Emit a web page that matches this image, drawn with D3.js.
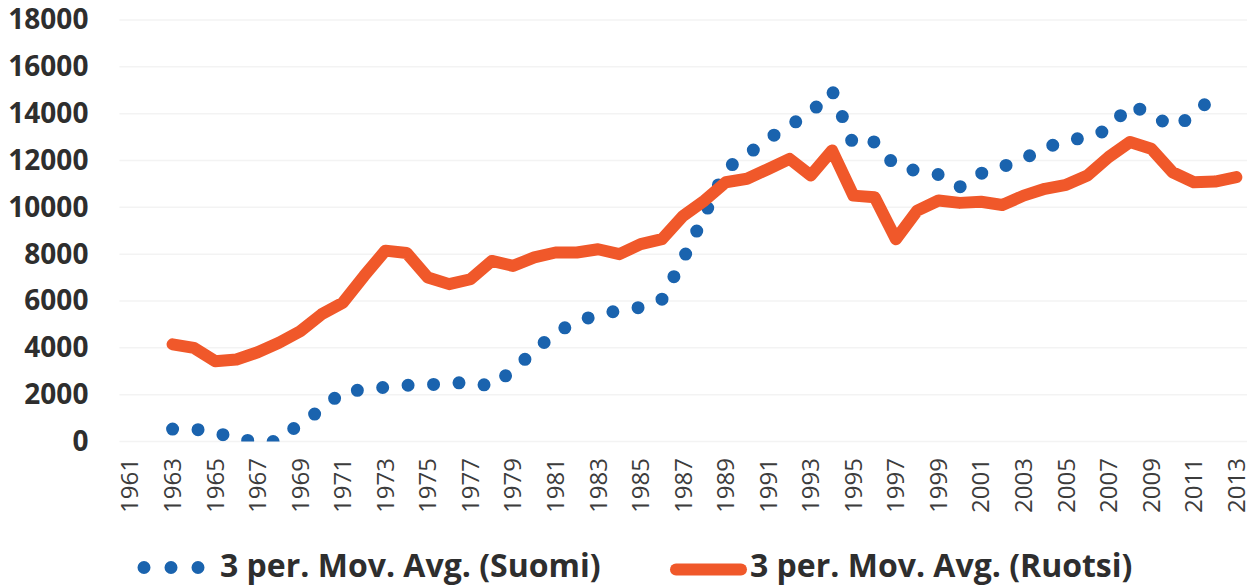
<!DOCTYPE html>
<html>
<head>
<meta charset="utf-8">
<script src="https://cdn.jsdelivr.net/npm/d3@7"></script>
<style>
    body { margin: 0; background: #fff; }
    .chart text { font-family: 'Open Sans', sans-serif; }
</style>
</head>
<body>
<div class="chart"></div>
<script>
var years = d3.range(1961, 2014);

// 3 period moving averages, null where the average is not defined
var suomi = [null, null,
    530, 530, 400, 100, 0, 0, 800, 1350, 2150, 2200,
    2320, 2400, 2430, 2460, 2560, 2340, 3050, 3870, 4640, 5130,
    5410, 5600, 5730, 6070, 7790, 9670, 11640, 12240, 12930, 13490,
    14040, 14990, 12670, 12800, 11730, 11560, 11400, 10870, 11450, 11730,
    12070, 12540, 12840, 13000, 13320, 14390, 13960, 13440, 13900, 14860,
    null];
var ruotsi = [null, null,
    4150, 4000, 3430, 3500, 3810, 4220, 4710, 5430, 5930, 7070,
    8150, 8050, 7000, 6720, 6930, 7710, 7500, 7860, 8070, 8070,
    8210, 8000, 8430, 8640, 9640, 10290, 11070, 11220, 11640, 12070,
    11360, 12430, 10500, 10430, 8640, 9860, 10290, 10190, 10240, 10100,
    10500, 10790, 10960, 11360, 12150, 12790, 12500, 11500, 11070, 11100,
    11290];
var yTicks = [0, 2000, 4000, 6000, 8000, 10000, 12000, 14000, 16000, 18000];
var xTicks = years.filter((d, i) => i % 2 === 0);
var seriesNames = ['3 per. Mov. Avg. (Suomi)', '3 per. Mov. Avg. (Ruotsi)'];

var margin = {
    top: 20,
    right: 11,
    bottom: 143.5,
    left: 119.4
};
var width = 1258 - margin.left - margin.right;
var height = 585 - margin.top - margin.bottom;

var blue = '#1a63ae';
var orange = '#f0582a';

var root = d3.select('.chart')
    .append('svg')
    .attr('width', 1258)
    .attr('height', 585);
var svg = root.append('g')
    .attr('transform', 'translate(' + margin.left + ', ' + margin.top + ')');

var xScale = d3.scaleBand()
    .domain(years)
    .range([0, width]);
var yScale = d3.scaleLinear()
    .domain([0, 18000])
    .range([height, 0]);

// gridlines, very faint in the original
svg.append('g')
    .selectAll('line')
    .data(yTicks)
    .enter()
    .append('line')
    .attr('x1', 0)
    .attr('x2', width)
    .attr('y1', d => yScale(d))
    .attr('y2', d => yScale(d))
    .attr('stroke', '#f3f3f3')
    .attr('stroke-width', 1.5);

// y axis
var yAxis = svg.append('g')
    .call(d3.axisLeft(yScale).tickValues(yTicks).tickSize(0).tickPadding(31).tickFormat(d3.format('d')));
yAxis.select('.domain').remove();
yAxis.selectAll('text')
    .attr('font-size', 28)
    .attr('font-weight', 700)
    .attr('fill', '#2e2e2e');

// x axis, labels turned upright
var xAxis = svg.append('g')
    .attr('transform', `translate(0, ${height})`)
    .call(d3.axisBottom(xScale).tickValues(xTicks).tickSize(0));
xAxis.select('.domain').remove();
xAxis.selectAll('text')
    .attr('font-size', 24)
    .attr('fill', '#3c3c3c')
    .attr('text-anchor', 'end')
    .attr('transform', 'rotate(-90)')
    .attr('x', -16.5)
    .attr('y', 0)
    .attr('dy', '0.35em');

svg.append('clipPath')
    .attr('id', 'plot')
    .append('rect')
    .attr('x', -10)
    .attr('y', -10)
    .attr('width', width + 20)
    .attr('height', height + 10);

var line = d3.line()
    .defined(d => d.v != null)
    .x(d => xScale(d.year) + xScale.bandwidth() / 2)
    .y(d => yScale(d.v));

var plot = svg.append('g').attr('clip-path', 'url(#plot)');

plot.append('path')
    .datum(years.map((y, i) => ({ year: y, v: suomi[i] })))
    .attr('d', line)
    .attr('fill', 'none')
    .attr('stroke', blue)
    .attr('stroke-width', 13)
    .attr('stroke-linecap', 'round')
    .attr('stroke-dasharray', '0 25.5');

plot.append('path')
    .datum(years.map((y, i) => ({ year: y, v: ruotsi[i] })))
    .attr('d', line)
    .attr('fill', 'none')
    .attr('stroke', orange)
    .attr('stroke-width', 12)
    .attr('stroke-linecap', 'round')
    .attr('stroke-linejoin', 'round');

// legend
var legend = root.append('g');
legend.append('line')
    .attr('x1', 144).attr('x2', 199)
    .attr('y1', 567.5).attr('y2', 567.5)
    .attr('stroke', blue)
    .attr('stroke-width', 13)
    .attr('stroke-linecap', 'round')
    .attr('stroke-dasharray', '0 27');
legend.append('line')
    .attr('x1', 676).attr('x2', 741)
    .attr('y1', 569.5).attr('y2', 569.5)
    .attr('stroke', orange)
    .attr('stroke-width', 12)
    .attr('stroke-linecap', 'round');
legend.selectAll('text')
    .data(seriesNames)
    .enter()
    .append('text')
    .attr('x', (d, i) => i ? 750 : 220)
    .attr('y', 577)
    .attr('font-size', 32)
    .attr('font-weight', 700)
    .attr('fill', '#2e2e2e')
    .text(d => d);
</script>
</body>
</html>
